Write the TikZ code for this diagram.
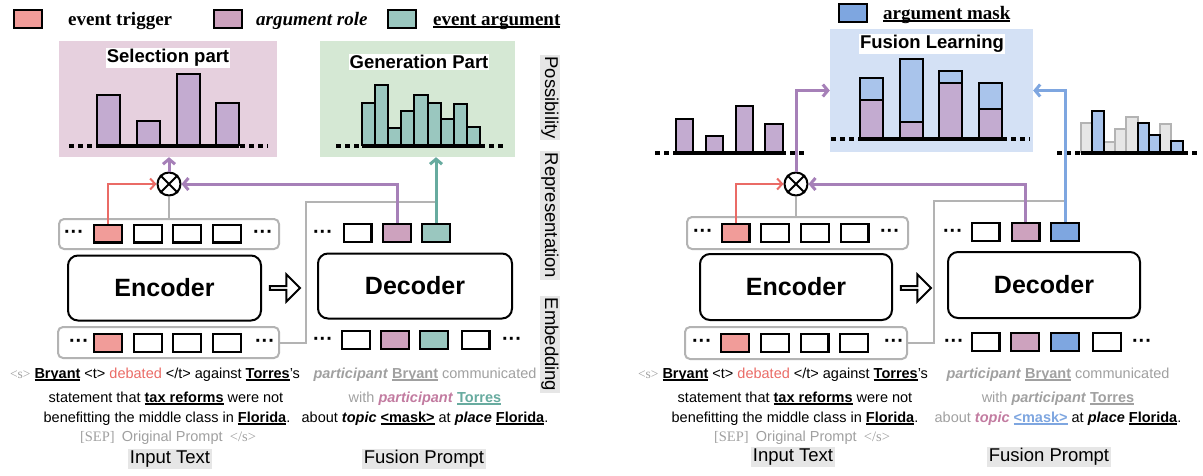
\documentclass[tikz,border=0pt]{standalone}
\usepackage{fontspec}
\setmainfont{Liberation Sans}
\newfontfamily\serifface{Liberation Serif}
\usetikzlibrary{shapes.arrows,arrows.meta}

\definecolor{trigfill}{HTML}{F19C99}
\definecolor{trigline}{HTML}{EA6B66}
\definecolor{rolefill}{HTML}{CDA2BE}
\definecolor{rolebar}{HTML}{C3ABD0}
\definecolor{roleline}{HTML}{A680B8}
\definecolor{rolepink}{HTML}{C27BA0}
\definecolor{argfill}{HTML}{9AC7BF}
\definecolor{argline}{HTML}{67AB9F}
\definecolor{maskfill}{HTML}{7EA6E0}
\definecolor{maskbar}{HTML}{A9C4EB}
\definecolor{maskline}{HTML}{7EA6E0}
\definecolor{selbg}{HTML}{E6D0DE}
\definecolor{genbg}{HTML}{D5E8D4}
\definecolor{fusbg}{HTML}{D4E1F5}
\definecolor{greyline}{HTML}{B3B3B3}
\definecolor{ghostfill}{HTML}{E6E6E6}
\definecolor{labelbg}{HTML}{E6E6E6}
\definecolor{txtgray}{HTML}{A0A0A0}

% thick underline that follows the current colour
\newcommand\myul[1]{\setbox0=\hbox{#1}\rlap{\rule[-2.6pt]{\wd0}{1.5pt}}\box0\relax}
\newcommand\bodyfs{\fontsize{14.5}{17}\selectfont}
\newcommand\labelfs{\fontsize{18.5}{22}\selectfont}

\tikzset{
  tok/.style={draw=black, line width=2.4pt, minimum width=27.6pt, minimum height=17.6pt, inner sep=0pt},
  legtext/.style={anchor=base west, inner sep=0pt, font=\fontsize{19}{22}\selectfont\serifface\bfseries},
  rowbox/.style={draw=greyline, line width=2pt, rounded corners=5pt, inner sep=0pt},
  coder/.style={draw=black, line width=2pt, rounded corners=10pt, inner sep=0pt, font=\fontsize{25}{28}\selectfont\bfseries},
  bar/.style={draw=black, line width=2pt},
  ghostbar/.style={draw=greyline, fill=ghostfill, line width=2pt},
  panel/.style={inner sep=0pt},
  ptitle/.style={fill=white, inner sep=1pt, font=\fontsize{18.5}{21}\selectfont\bfseries},
  dots/.style={font=\fontsize{20}{20}\selectfont\bfseries, inner sep=0pt},
  axisdots/.style={line width=4.5pt, dash pattern=on 5pt off 4pt},
  axisline/.style={line width=4.5pt},
  prod/.style={circle, draw=black, line width=2pt, minimum size=23pt, inner sep=0pt, fill=white},
  feed/.style={draw=greyline, line width=2pt},
  trigarrow/.style={draw=trigline, line width=2pt, -{Straight Barb[length=5pt,width=11pt]}},
  rolearrow/.style={draw=roleline, line width=3pt, -{Straight Barb[length=5pt,width=12pt]}},
  argarrow/.style={draw=argline, line width=3pt, -{Straight Barb[length=5pt,width=12pt]}},
  maskarrow/.style={draw=maskline, line width=3pt, -{Straight Barb[length=5pt,width=12pt]}},
  sidelabel/.style={rotate=-90, fill=labelbg, inner sep=1.5pt, font=\labelfs},
  caption/.style={fill=labelbg, inner sep=1.5pt, font=\labelfs},
  txt/.style={anchor=base, inner sep=0pt, font=\bodyfs},
  hollow/.style={single arrow, draw=black, line width=2pt, fill=white, minimum height=30pt, minimum width=27pt, single arrow head extend=6pt, inner sep=0pt},
}

\begin{document}
\begin{tikzpicture}[x=1pt,y=-1pt]
\useasboundingbox (0,0) rectangle (1203,475);

% ---------------- legend ----------------
\node[tok, fill=trigfill] (k1) at (28,19) {};
\node[legtext] (k1t) at (68,25) {event trigger};
\node[tok, fill=rolefill] (k2) at (228,19) {};
\node[legtext] (k2t) at (256,25) {\itshape argument role};
\node[tok, fill=argfill] (k3) at (402,19) {};
\node[legtext] (k3t) at (433,25) {\myul{event argument}};
\node[tok, fill=maskfill] (k4) at (853,13) {};
\node[legtext] (k4t) at (883,19) {\myul{argument mask}};

% ======================= left panel =======================
% output panels
\node[panel, fill=selbg, minimum width=218pt, minimum height=116pt] (sel) at (168,99) {};
\node[panel, fill=genbg, minimum width=195pt, minimum height=116pt] (gen) at (417.5,99) {};

\foreach \xa/\xb/\t in {97/120/95, 137/160/121, 177/200/74, 216/239/103}
  \draw[bar, fill=rolebar] (\xa,\t) rectangle (\xb,145);
\draw[axisdots] (69,146) -- (268,146);
\draw[axisline] (97,146) -- (239,146);
\node[ptitle] (selt) at (168,58) {Selection part};

\foreach \t [count=\i from 0] in {103,85,128,111,95,103,119,104,127}
  \draw[bar, fill=argfill] ({362+13.1*\i},\t) rectangle ({362+13.1*(\i+1)},145);
\draw[axisdots] (336,146) -- (506,146);
\draw[axisline] (362,146) -- (480,146);
\node[ptitle] (gent) at (419,62) {Generation Part};

% representation row
\node[rowbox, minimum width=220pt, minimum height=30pt] (lrt) at (169,234) {};
\node[dots] (lrtd1) at (74,234) {···};
\node[tok, fill=trigfill] (lt1) at (108,233.5) {};
\node[tok] (lt2) at (148,233.5) {};
\node[tok] (lt3) at (187,233.5) {};
\node[tok] (lt4) at (227,233.5) {};
\node[dots] (lrtd2) at (263,234) {···};

\node[dots] (ldtd) at (323,234) {···};
\node[tok] (ld1) at (357.5,233) {};
\node[tok, fill=rolefill] (ld2) at (397,233) {};
\node[tok, fill=argfill] (ld3) at (436,233) {};

% encoder / decoder
\node[coder, minimum width=193pt, minimum height=65pt] (enc) at (164.5,288) {Encoder};
\node[hollow] (lflow) at (284,288) {};
\node[coder, minimum width=194pt, minimum height=65pt] (dec) at (415,286) {Decoder};

% embedding row
\node[rowbox, minimum width=221pt, minimum height=31pt] (lrb) at (168.5,342.5) {};
\node[dots] (lrbd1) at (79,343) {···};
\node[tok, fill=trigfill] (lb1) at (108,343) {};
\node[tok] (lb2) at (148,343) {};
\node[tok] (lb3) at (187,343) {};
\node[tok] (lb4) at (227,343) {};
\node[dots] (lrbd2) at (265,343) {···};

\node[dots] (ldbd1) at (323,341) {···};
\node[tok] (le1) at (356,340) {};
\node[tok, fill=rolefill] (le2) at (395,340) {};
\node[tok, fill=argfill] (le3) at (434,340) {};
\node[tok] (le4) at (475.5,340) {};
\node[dots] (ldbd2) at (512,341) {···};

% product node
\node[prod] (lx) at (169,184) {};
\draw[line width=2pt] (lx.north west) -- (lx.south east) (lx.north east) -- (lx.south west);

% connectors
\coordinate (lk) at (306,202);
\draw[feed] (lrb.east) -| (lk) -- (lk -| ld3.north);
\draw[feed] (lx.south) -- (lx.south |- lrt.north);
\draw[trigarrow] (lt1.north) |- (lx.west);
\draw[rolearrow] (ld2.north) |- (lx.east);
\draw[rolearrow] (lx.north) -- (lx.north |- sel.south);
\draw[argarrow] (ld3.north) -- (ld3.north |- gen.south);

% side labels
\node[sidelabel] (sp) at (550,97.5) {Possibility};
\node[sidelabel] (sr) at (550,215.5) {Representation};
\node[sidelabel] (se) at (550,344.5) {Embedding};

% input text
\node[txt] (li1) at (155,378) {{\color{txtgray}\serifface\fontsize{13.5}{15}\selectfont <s>} \myul{\textbf{Bryant}} <t> {\color{trigline}debated} </t> against \myul{\textbf{Torres}}'s};
\node[txt] (li2) at (166,402) {statement that \myul{\textbf{tax reforms}} were not};
\node[txt] (li3) at (167,422) {benefitting the middle class in \myul{\textbf{Florida}}.};
\node[txt, text=txtgray] (li4) at (168,441) {{\serifface [SEP]}\enspace Original Prompt\enspace {\serifface </s>}};
\node[caption] (lcap1) at (170,459) {Input Text};

% fusion prompt
\node[txt, text=txtgray] (lf1) at (425,378) {\textbf{\textit{participant}} \myul{\textbf{Bryant}} communicated};
\node[txt] (lf2) at (425,402) {{\color{txtgray}with} {\color{rolepink}\textbf{\textit{participant}}} {\color{argline}\myul{\textbf{Torres}}}};
\node[txt] (lf3) at (425,422) {about \textbf{\textit{topic}} \myul{\textbf{<mask>}} at \textbf{\textit{place}} \myul{\textbf{Florida}}.};
\node[caption] (lcap2) at (424,459) {Fusion Prompt};

% ======================= right panel =======================
\node[panel, fill=fusbg, minimum width=203pt, minimum height=123pt] (fus) at (931.5,90.5) {};
\foreach \xa/\xb/\ta/\tb in {860/883/78/100, 900/923/59/122, 939/962/71/83, 979/1002/83/109} {
  \draw[bar, fill=maskbar] (\xa,\ta) rectangle (\xb,\tb);
  \draw[bar, fill=rolebar] (\xa,\tb) rectangle (\xb,138);
}
\draw[axisdots] (831,139) -- (1030,139);
\draw[axisline] (860,139) -- (1002,139);
\node[ptitle] (fust) at (932,44) {Fusion Learning};

% selection scores
\foreach \xa/\xb/\t in {676/693/119, 706/723/136, 736/753/106, 765/783/124}
  \draw[bar, fill=rolebar] (\xa,\t) rectangle (\xb,152);
\draw[axisdots] (655,153) -- (805,153);
\draw[axisline] (676,153) -- (783,153);

% generation scores, masked positions highlighted
\foreach \t/\k [count=\i from 0] in {123/g,111/b,142/g,129/g,117/g,123/b,135/b,124/g,141/b} {
  \if\k g
    \draw[ghostbar] ({1081+11.3*\i},\t) rectangle ({1081+11.3*(\i+1)},152);
  \fi
}
\foreach \t/\k [count=\i from 0] in {123/g,111/b,142/g,129/g,117/g,123/b,135/b,124/g,141/b} {
  \if\k b
    \draw[bar, fill=maskbar] ({1081+11.3*\i},\t) rectangle ({1081+11.3*(\i+1)},152);
  \fi
}
\draw[axisdots] (1057,153) -- (1199,153);
\draw[axisline] (1081,153) -- (1183,153);

% representation row
\node[rowbox, minimum width=221pt, minimum height=32pt] (rrt) at (797.5,233) {};
\node[dots] (rrtd1) at (703,233) {···};
\node[tok, fill=trigfill] (rt1) at (735.5,233) {};
\node[tok] (rt2) at (775,233) {};
\node[tok] (rt3) at (815,233) {};
\node[tok] (rt4) at (854.5,233) {};
\node[dots] (rrtd2) at (890,233) {···};

\node[dots] (rdtd) at (953,233) {···};
\node[tok] (rd1) at (985.5,232) {};
\node[tok, fill=rolefill] (rd2) at (1025.5,232) {};
\node[tok, fill=maskfill] (rd3) at (1065,232) {};

% encoder / decoder
\node[coder, minimum width=192pt, minimum height=66pt] (renc) at (796,287) {Encoder};
\node[hollow] (rflow) at (915,288) {};
\node[coder, minimum width=192pt, minimum height=66pt] (rdec) at (1044,285) {Decoder};

% embedding row
\node[rowbox, minimum width=222pt, minimum height=32pt] (rrb) at (796,343) {};
\node[dots] (rrbd1) at (702,343) {···};
\node[tok, fill=trigfill] (rb1) at (735,343) {};
\node[tok] (rb2) at (775,343) {};
\node[tok] (rb3) at (814.5,343) {};
\node[tok] (rb4) at (854,343) {};
\node[dots] (rrbd2) at (894,343) {···};

\node[dots] (rdbd1) at (954,343) {···};
\node[tok] (re1) at (985.5,342) {};
\node[tok, fill=rolefill] (re2) at (1025,342) {};
\node[tok, fill=maskfill] (re3) at (1065,342) {};
\node[tok] (re4) at (1107,342) {};
\node[dots] (rdbd2) at (1142,343) {···};

% product node
\node[prod] (rx) at (796,184) {};
\draw[line width=2pt] (rx.north west) -- (rx.south east) (rx.north east) -- (rx.south west);

% connectors
\coordinate (rk) at (934,201);
\draw[feed] (rrb.east) -| (rk) -- (rk -| rd3.north);
\draw[feed] (rx.south) -- (rx.south |- rrt.north);
\draw[trigarrow] (rt1.north) |- (rx.west);
\draw[rolearrow] (rd2.north) |- (rx.east);
\draw[rolearrow] (rx.north) |- (fus.west);
\draw[maskarrow] (rd3.north) |- (fus.east);

% input text
\node[txt] (ri1) at (783,378) {{\color{txtgray}\serifface\fontsize{13.5}{15}\selectfont <s>} \myul{\textbf{Bryant}} <t> {\color{trigline}debated} </t> against \myul{\textbf{Torres}}'s};
\node[txt] (ri2) at (795,402) {statement that \myul{\textbf{tax reforms}} were not};
\node[txt] (ri3) at (795,422) {benefitting the middle class in \myul{\textbf{Florida}}.};
\node[txt, text=txtgray] (ri4) at (802,441) {{\serifface [SEP]}\enspace Original Prompt\enspace {\serifface </s>}};
\node[caption] (rcap1) at (793,457) {Input Text};

% fusion prompt
\node[txt, text=txtgray] (rf1) at (1058,378) {\textbf{\textit{participant}} \myul{\textbf{Bryant}} communicated};
\node[txt, text=txtgray] (rf2) at (1058,402) {with \textbf{\textit{participant}} \myul{\textbf{Torres}}};
\node[txt] (rf3) at (1058,422) {{\color{txtgray}about} {\color{rolepink}\textbf{\textit{topic}}} {\color{maskline}\myul{\textbf{<mask>}}} at \textbf{\textit{place}} \myul{\textbf{Florida}}.};
\node[caption] (rcap2) at (1049,457) {Fusion Prompt};
\end{tikzpicture}
\end{document}
